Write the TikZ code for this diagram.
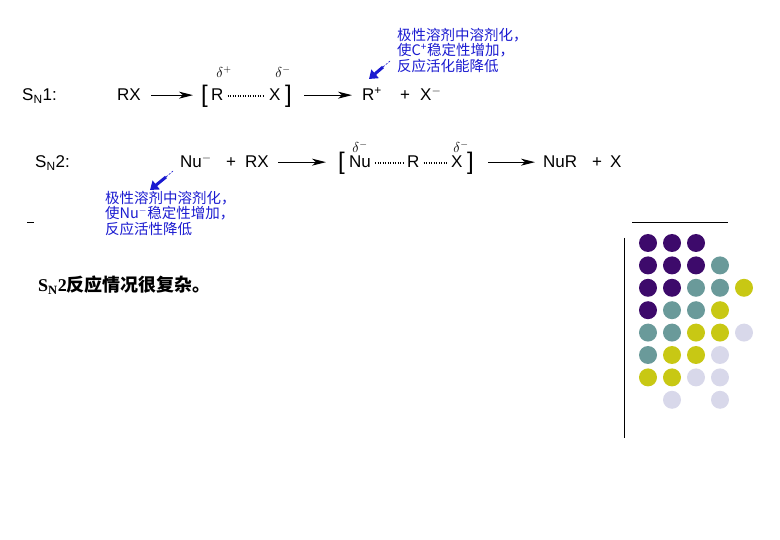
\documentclass[tikz,border=0pt]{standalone}
\usepackage{fontspec}
\setmainfont{Liberation Sans}
\newfontfamily\cjk{Noto Sans CJK SC}
\newfontfamily\tms{Liberation Serif}
\usetikzlibrary{arrows.meta}
\definecolor{pp}{HTML}{3D0A6B}
\definecolor{tl}{HTML}{6A9A9A}
\definecolor{yl}{HTML}{C8C814}
\definecolor{lv}{HTML}{D8D8EA}
\definecolor{bl}{HTML}{1A1AD0}
\begin{document}
\begin{tikzpicture}[x=1pt,y=-1pt,
  chem/.style={font=\fontsize{17}{19}\selectfont,inner sep=0pt,anchor=base west},
  brk/.style={font=\fontsize{24}{24}\selectfont,inner sep=0pt,anchor=base west},
  dl/.style={font=\fontsize{14}{14}\selectfont,inner sep=0pt},
  note/.style={font=\cjk\fontsize{14.5}{15.5}\selectfont,text=bl,align=left,inner sep=0pt,anchor=north west},
  rarr/.style={-{Stealth[length=14pt,width=7pt,inset=4pt]},line width=1.1pt},
  bond/.style={line width=2pt,dash pattern=on 1pt off 1.5pt},
  barr/.style={bl,line width=3pt,-{Triangle[length=8pt,width=11pt]}},
  dot/.style={circle,minimum size=18pt,inner sep=0pt}]
\useasboundingbox (0,0) rectangle (780,540);
% SN1
\node[chem] (s1) at (22,101) {S\textsubscript{N}1:};
\node[chem] (rx1) at (117,101) {RX};
\node[brk] (lb1) at (201,103) {[};
\node[chem] (r1) at (211,101) {R};
\node[chem] (x1) at (269,101) {X};
\node[brk] (rb1) at (285,103) {]};
\node[chem] (rp) at (362,101) {R\textsuperscript{+}};
\node[chem] (pl1) at (400,101) {+};
\node[chem] (xm) at (420,101) {X\textsuperscript{$-$}};
\draw[bond] ([xshift=4pt,yshift=-1pt]r1.east) -- ([xshift=-4pt,yshift=-1pt]x1.west |- r1.east);
\draw[rarr] ([xshift=10pt]rx1.east) -- ([xshift=-8pt]lb1.west |- rx1.east);
\draw[rarr] ([xshift=12pt]rb1.east |- rx1.east) -- ([xshift=-10pt]rp.west |- rx1.east);
\node[dl] (d1) at (224,72) {$\delta^{+}$};
\node[dl] (d2) at (283,72) {$\delta^{-}$};
\node[note] (n1) at (397,28) {极性溶剂中溶剂化，\\使C\textsuperscript{+}稳定性增加，\\反应活化能降低};
\coordinate (t1) at (390,61);
\draw[bl,line width=0.6pt,dash pattern=on 2pt off 1.5pt] (t1) -- ++(-7,6) coordinate (t1b);
\draw[barr] (t1b) -- (369,79);
% SN2
\node[chem] (s2) at (35,168) {S\textsubscript{N}2:};
\node[chem] (nu) at (180,168) {Nu\textsuperscript{$-$}};
\node[chem] (pl2) at (226,168) {+};
\node[chem] (rx2) at (245,168) {RX};
\node[brk] (lb2) at (338,170) {[};
\node[chem] (nu2) at (349,168) {Nu};
\node[chem] (r2) at (407,168) {R};
\node[chem] (x2b) at (451,168) {X};
\node[brk] (rb2) at (467,170) {]};
\node[chem] (nur) at (543,168) {NuR};
\node[chem] (pl3) at (592,168) {+};
\node[chem] (x2) at (610,168) {X};
\draw[bond] ([xshift=4pt,yshift=-1pt]nu2.east) -- ([xshift=-4pt,yshift=-1pt]r2.west |- nu2.east);
\draw[bond] ([xshift=4pt,yshift=-1pt]r2.east |- nu2.east) -- ([xshift=-4pt,yshift=-1pt]x2b.west |- nu2.east);
\draw[rarr] ([xshift=9pt]rx2.east) -- ([xshift=-12pt]lb2.west |- rx2.east);
\draw[rarr] ([xshift=14pt]rb2.east |- rx2.east) -- ([xshift=-8pt]nur.west |- rx2.east);
\node[dl] (d3) at (360,147) {$\delta^{-}$};
\node[dl] (d4) at (461,147) {$\delta^{-}$};
\node[note] (n2) at (105,191) {极性溶剂中溶剂化，\\使Nu\textsuperscript{$-$}稳定性增加，\\反应活性降低};
\coordinate (t2) at (173,171);
\draw[bl,line width=0.6pt,dash pattern=on 2pt off 1.5pt] (t2) -- ++(-7,6) coordinate (t2b);
\draw[barr] (t2b) -- (150,190);
\draw[line width=0.8pt] (27,222) -- (34,222);
% bottom text
\node[anchor=base west,inner sep=0pt,font=\fontsize{18}{20}\selectfont] (bt) at (38,292) {\tms\bfseries S\textsubscript{N}2\cjk 反应情况很复杂。};
% decoration
\draw[line width=0.8pt] (632,222) -- (728,222);
\draw[line width=0.8pt] (624,238) -- (624,438);
\foreach \r/\cols in {0/{pp,pp,pp,none,none},1/{pp,pp,pp,tl,none},2/{pp,pp,tl,tl,yl},3/{pp,tl,tl,yl,none},4/{tl,tl,yl,yl,lv},5/{tl,yl,yl,lv,none},6/{yl,yl,lv,lv,none},7/{none,lv,none,lv,none}}{
  \foreach \c [count=\i from 0] in \cols {
    \def\tmp{none}\ifx\c\tmp\else
      \node[dot,fill=\c] (g\r\i) at ({648+24*\i},{243+22.4*\r}) {};
    \fi
  }
}
\end{tikzpicture}
\end{document}
